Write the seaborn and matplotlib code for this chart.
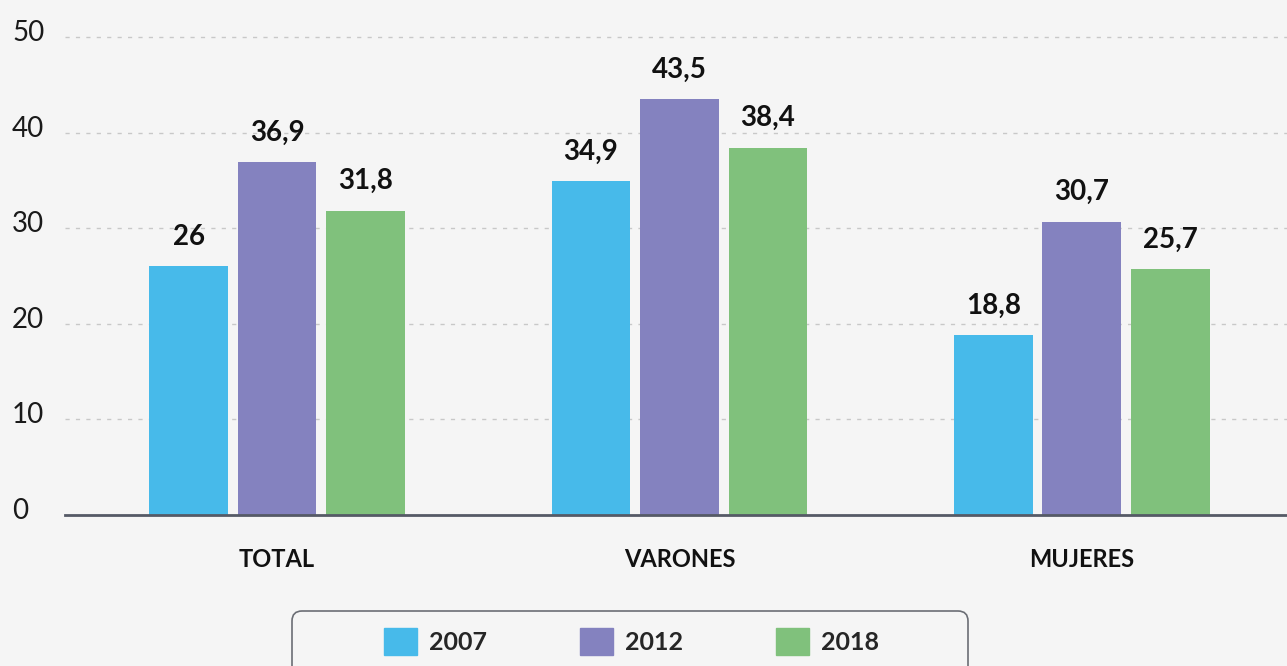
import matplotlib
matplotlib.use("Agg")
import matplotlib.pyplot as plt
import matplotlib.transforms as mtransforms
from matplotlib.patches import FancyBboxPatch
import pandas as pd
import seaborn as sns

# --- dati ---
categorias = ["TOTAL", "VARONES", "MUJERES"]
anios = ["2007", "2012", "2018"]
valores_2007 = [26, 34.9, 18.8]
valores_2012 = [36.9, 43.5, 30.7]
valores_2018 = [31.8, 38.4, 25.7]
y_ticks = [0, 10, 20, 30, 40, 50]
colores = ["#47baea", "#8482bf", "#80c17c"]

df = pd.DataFrame({
    "categoria": categorias * 3,
    "anio": [a for a in anios for _ in categorias],
    "valor": valores_2007 + valores_2012 + valores_2018,
})

sns.set_theme(style="white")
plt.rcParams["font.family"] = ["Lato", "DejaVu Sans"]
fondo = "#f5f5f5"

fig = plt.figure(figsize=(12.87, 6.66), dpi=100, facecolor=fondo)
ax = fig.add_axes([65 / 1287, 151 / 666, 1 - 65 / 1287, 515 / 666])
ax.set_facecolor(fondo)

sns.barplot(data=df, x="categoria", y="valor", hue="anio", order=categorias,
            hue_order=anios, palette=colores, saturation=1, width=0.66, gap=0.11,
            linewidth=0, ax=ax, legend=True, zorder=2)

ax.set_xlim(-0.527, 2.51)
ax.set_ylim(0, 53.87)

# griglia tratteggiata
ax.set_yticks(y_ticks[1:])
ax.set_yticklabels([])
ax.tick_params(axis="y", length=0)
ax.yaxis.grid(True, color="#c8c8c8", linewidth=1, linestyle=(0, (3, 4.5)))
ax.set_axisbelow(True)

# etichette asse y a sinistra, sopra la linea
trans = mtransforms.blended_transform_factory(fig.transFigure, ax.transData)
trans = mtransforms.offset_copy(trans, fig=fig, y=-4, units="dots")
for t in y_ticks:
    ax.text(12 / 1287, t, str(t), transform=trans, ha="left", va="baseline",
            fontsize=20, color="#1a1a1a")

for s in ["top", "right", "left"]:
    ax.spines[s].set_visible(False)
ax.spines["bottom"].set_color("#555a66")
ax.spines["bottom"].set_linewidth(2)

ax.tick_params(axis="x", length=0, pad=24)
for lab in ax.get_xticklabels():
    lab.set_fontsize(17)
    lab.set_fontweight("bold")
    lab.set_color("#111111")
ax.set_xlabel("")
ax.set_ylabel("")

# valori sopra le barre
for cont in ax.containers:
    etichette = [f"{b.get_height():g}".replace(".", ",") for b in cont]
    ax.bar_label(cont, labels=etichette, padding=12, fontsize=20,
                 fontweight="bold", color="#111111")

# legenda
ax.get_legend().remove()
handles = [plt.Rectangle((0, 0), 1, 1, color=c) for c in colores]
fig.legend(handles, anios, loc="center", ncol=3, frameon=False,
           bbox_to_anchor=(631 / 1287, (666 - 641.5) / 666),
           prop={"size": 18, "weight": "bold"},
           handlelength=1.32, handleheight=1.32, handletextpad=0.48,
           columnspacing=3.72)

cornice = FancyBboxPatch((292, -30), 676, 85, boxstyle="round,pad=0,rounding_size=10",
                         transform=mtransforms.IdentityTransform(),
                         facecolor="none", edgecolor="#6b6e75", linewidth=1.2)
fig.patches.append(cornice)

plt.savefig("out.png", dpi=100, facecolor=fondo)
